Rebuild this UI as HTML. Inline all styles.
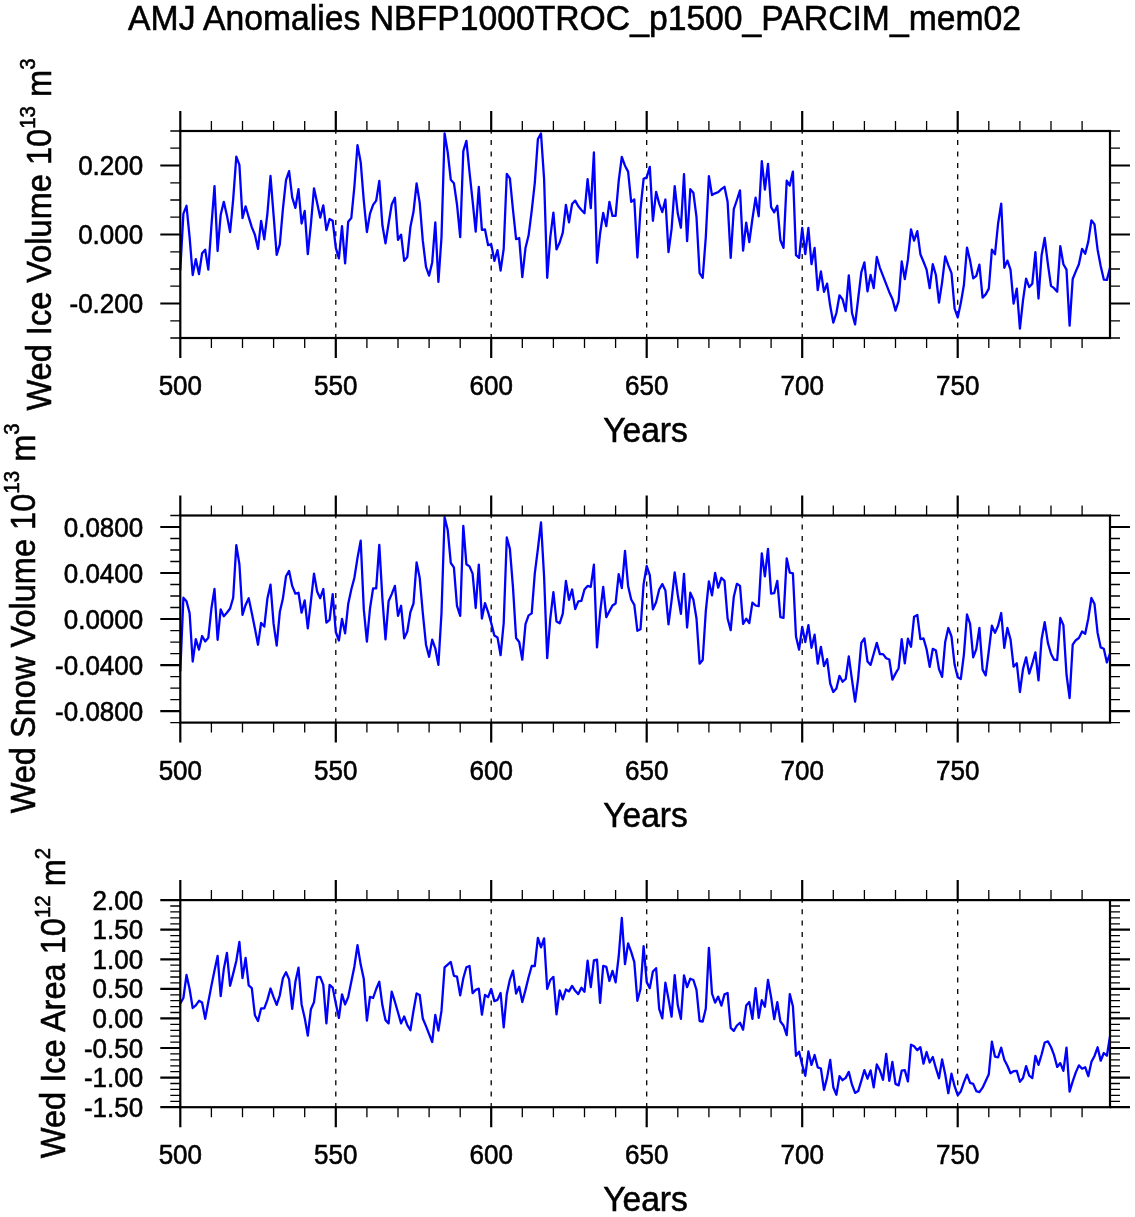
<!DOCTYPE html><html><head><meta charset="utf-8"><title>AMJ Anomalies</title>
<style>html,body{margin:0;padding:0;background:#fff}svg{display:block;will-change:transform}text{font-family:"Liberation Sans", sans-serif;fill:#000}</style></head><body>
<svg width="1135" height="1217" viewBox="0 0 1135 1217">
<rect width="1135" height="1217" fill="#fff"/>
<text transform="translate(574.60 30.40) scale(1.0000 1.0500)" font-size="33.4" text-anchor="middle" stroke="#000" stroke-width="0.55" textLength="893" lengthAdjust="spacingAndGlyphs">AMJ Anomalies NBFP1000TROC_p1500_PARCIM_mem02</text>
<g><line x1="335.8" y1="131.0" x2="335.8" y2="338.0" stroke="#000" stroke-width="1.3" stroke-dasharray="5 6.4" stroke-dashoffset="2.3"/><line x1="491.2" y1="131.0" x2="491.2" y2="338.0" stroke="#000" stroke-width="1.3" stroke-dasharray="5 6.4" stroke-dashoffset="2.3"/><line x1="646.7" y1="131.0" x2="646.7" y2="338.0" stroke="#000" stroke-width="1.3" stroke-dasharray="5 6.4" stroke-dashoffset="2.3"/><line x1="802.2" y1="131.0" x2="802.2" y2="338.0" stroke="#000" stroke-width="1.3" stroke-dasharray="5 6.4" stroke-dashoffset="2.3"/><line x1="957.7" y1="131.0" x2="957.7" y2="338.0" stroke="#000" stroke-width="1.3" stroke-dasharray="5 6.4" stroke-dashoffset="2.3"/><polyline points="180.3,269.6 183.4,213.6 186.5,205.8 189.6,237.1 192.7,275.0 195.8,259.1 199.0,274.1 202.1,253.3 205.2,249.7 208.3,269.6 211.4,226.2 214.5,186.1 217.6,251.0 220.7,214.8 223.8,201.8 226.9,215.4 230.1,232.0 233.2,199.1 236.3,156.6 239.4,164.8 242.5,218.1 245.6,206.3 248.7,217.2 251.8,227.1 254.9,234.7 258.0,248.8 261.1,220.8 264.3,239.4 267.4,213.6 270.5,176.0 273.6,215.4 276.7,254.8 279.8,244.3 282.9,209.1 286.0,180.1 289.1,171.1 292.2,197.3 295.4,207.8 298.5,189.2 301.6,223.5 304.7,210.9 307.8,254.2 310.9,224.4 314.0,188.3 317.1,202.7 320.2,217.6 323.3,205.4 326.4,230.2 329.6,219.0 332.7,220.8 335.8,247.9 338.9,258.4 342.0,226.2 345.1,263.3 348.2,221.7 351.3,218.1 354.4,186.5 357.5,145.2 360.7,162.1 363.8,200.9 366.9,232.0 370.0,213.6 373.1,204.9 376.2,200.6 379.3,181.0 382.4,225.3 385.5,243.4 388.6,223.5 391.7,204.5 394.9,197.7 398.0,239.8 401.1,234.7 404.2,260.9 407.3,257.0 410.4,227.1 413.5,211.8 416.6,183.4 419.7,202.7 422.8,240.7 426.0,266.9 429.1,275.6 432.2,262.4 435.3,222.3 438.4,281.9 441.5,237.1 444.6,133.5 447.7,152.1 450.8,179.8 453.9,183.2 457.0,204.5 460.2,237.1 463.3,151.2 466.4,140.9 469.5,172.0 472.6,200.9 475.7,231.7 478.8,187.0 481.9,229.8 485.0,229.5 488.1,245.2 491.2,244.3 494.4,260.9 497.5,250.1 500.6,270.5 503.7,248.8 506.8,173.8 509.9,178.3 513.0,210.0 516.1,239.2 519.2,238.0 522.3,277.2 525.5,247.9 528.6,235.3 531.7,210.9 534.8,182.8 537.9,139.1 541.0,133.5 544.1,179.2 547.2,277.8 550.3,237.1 553.4,212.7 556.5,249.4 559.7,242.5 562.8,232.6 565.9,204.9 569.0,222.3 572.1,204.0 575.2,200.6 578.3,206.3 581.4,210.0 584.5,213.2 587.6,179.2 590.8,208.2 593.9,152.5 597.0,262.8 600.1,233.5 603.2,213.0 606.3,226.2 609.4,201.8 612.5,215.9 615.6,215.9 618.7,181.0 621.8,157.0 625.0,165.7 628.1,171.6 631.2,201.8 634.3,199.5 637.4,257.5 640.5,209.1 643.6,178.9 646.7,177.4 649.8,166.9 652.9,220.8 656.1,191.9 659.2,203.6 662.3,212.1 665.4,199.5 668.5,252.1 671.6,228.9 674.7,186.1 677.8,213.6 680.9,227.7 684.0,174.2 687.1,241.2 690.3,189.2 693.4,192.8 696.5,217.2 699.6,273.2 702.7,277.8 705.8,237.1 708.9,176.2 712.0,195.1 715.1,193.3 718.2,192.2 721.4,189.2 724.5,186.8 727.6,201.8 730.7,257.9 733.8,209.1 736.9,200.0 740.0,190.4 743.1,250.6 746.2,222.6 749.3,242.1 752.4,219.0 755.6,197.7 758.7,216.3 761.8,161.2 764.9,189.5 768.0,163.9 771.1,207.2 774.2,212.3 777.3,205.8 780.4,240.3 783.5,247.9 786.7,180.7 789.8,185.6 792.9,171.6 796.0,255.2 799.1,257.9 802.2,228.0 805.3,254.2 808.4,228.0 811.5,264.2 814.6,247.9 817.7,290.1 820.9,271.4 824.0,291.9 827.1,283.7 830.2,305.8 833.3,322.6 836.4,313.0 839.5,295.3 842.6,299.4 845.7,311.2 848.8,275.4 852.0,313.0 855.1,324.4 858.2,298.5 861.3,272.3 864.4,262.4 867.5,291.3 870.6,275.0 873.7,288.1 876.8,257.0 879.9,267.8 883.0,275.9 886.2,284.1 889.3,292.2 892.4,298.9 895.5,310.6 898.6,301.2 901.7,261.5 904.8,279.0 907.9,259.7 911.0,229.3 914.1,240.7 917.3,231.1 920.4,254.2 923.5,261.8 926.6,269.6 929.7,288.2 932.8,264.2 935.9,275.0 939.0,302.7 942.1,282.3 945.2,256.4 948.3,265.1 951.5,273.2 954.6,308.5 957.7,317.5 960.8,303.1 963.9,285.0 967.0,247.6 970.1,260.6 973.2,278.3 976.3,275.9 979.4,264.6 982.6,297.6 985.7,294.4 988.8,288.6 991.9,249.7 995.0,254.2 998.1,223.5 1001.2,203.6 1004.3,267.8 1007.4,260.6 1010.5,269.6 1013.6,303.6 1016.8,288.6 1019.9,328.7 1023.0,300.4 1026.1,278.7 1029.2,287.1 1032.3,283.7 1035.4,252.1 1038.5,298.5 1041.6,255.2 1044.7,238.0 1047.9,264.2 1051.0,285.9 1054.1,288.2 1057.2,291.7 1060.3,246.1 1063.4,264.2 1066.5,269.6 1069.6,325.7 1072.7,279.0 1075.8,271.4 1078.9,264.2 1082.1,248.8 1085.2,253.7 1088.3,241.6 1091.4,220.3 1094.5,224.4 1097.6,249.7 1100.7,266.0 1103.8,279.6 1106.9,279.9 1110.0,267.8" fill="none" stroke="#0000ff" stroke-width="2.3" stroke-linejoin="round" stroke-linecap="round"/><rect x="180.3" y="131.0" width="929.7" height="207.0" fill="none" stroke="#000" stroke-width="2.2"/><path d="M180.3 131.0V111.0M180.3 338.0V358.0M335.8 131.0V111.0M335.8 338.0V358.0M491.2 131.0V111.0M491.2 338.0V358.0M646.7 131.0V111.0M646.7 338.0V358.0M802.2 131.0V111.0M802.2 338.0V358.0M957.7 131.0V111.0M957.7 338.0V358.0M180.3 165.5H160.3M1110.0 165.5H1130.0M180.3 234.5H160.3M1110.0 234.5H1130.0M180.3 303.5H160.3M1110.0 303.5H1130.0" stroke="#000" stroke-width="2.2" fill="none"/><path d="M211.4 131.0V121.0M211.4 338.0V348.0M242.5 131.0V121.0M242.5 338.0V348.0M273.6 131.0V121.0M273.6 338.0V348.0M304.7 131.0V121.0M304.7 338.0V348.0M366.9 131.0V121.0M366.9 338.0V348.0M398.0 131.0V121.0M398.0 338.0V348.0M429.1 131.0V121.0M429.1 338.0V348.0M460.2 131.0V121.0M460.2 338.0V348.0M522.3 131.0V121.0M522.3 338.0V348.0M553.4 131.0V121.0M553.4 338.0V348.0M584.5 131.0V121.0M584.5 338.0V348.0M615.6 131.0V121.0M615.6 338.0V348.0M677.8 131.0V121.0M677.8 338.0V348.0M708.9 131.0V121.0M708.9 338.0V348.0M740.0 131.0V121.0M740.0 338.0V348.0M771.1 131.0V121.0M771.1 338.0V348.0M833.3 131.0V121.0M833.3 338.0V348.0M864.4 131.0V121.0M864.4 338.0V348.0M895.5 131.0V121.0M895.5 338.0V348.0M926.6 131.0V121.0M926.6 338.0V348.0M988.8 131.0V121.0M988.8 338.0V348.0M1019.9 131.0V121.0M1019.9 338.0V348.0M1051.0 131.0V121.0M1051.0 338.0V348.0M1082.1 131.0V121.0M1082.1 338.0V348.0M180.3 131.0H170.3M1110.0 131.0H1120.0M180.3 148.2H170.3M1110.0 148.2H1120.0M180.3 182.8H170.3M1110.0 182.8H1120.0M180.3 200.0H170.3M1110.0 200.0H1120.0M180.3 217.2H170.3M1110.0 217.2H1120.0M180.3 251.8H170.3M1110.0 251.8H1120.0M180.3 269.0H170.3M1110.0 269.0H1120.0M180.3 286.2H170.3M1110.0 286.2H1120.0M180.3 320.8H170.3M1110.0 320.8H1120.0M180.3 338.0H170.3M1110.0 338.0H1120.0" stroke="#000" stroke-width="1.3" fill="none"/><text transform="translate(180.30 394.90) scale(1.0000 1.0500)" font-size="26" text-anchor="middle" stroke="#000" stroke-width="0.55">500</text><text transform="translate(335.77 394.90) scale(1.0000 1.0500)" font-size="26" text-anchor="middle" stroke="#000" stroke-width="0.55">550</text><text transform="translate(491.25 394.90) scale(1.0000 1.0500)" font-size="26" text-anchor="middle" stroke="#000" stroke-width="0.55">600</text><text transform="translate(646.73 394.90) scale(1.0000 1.0500)" font-size="26" text-anchor="middle" stroke="#000" stroke-width="0.55">650</text><text transform="translate(802.20 394.90) scale(1.0000 1.0500)" font-size="26" text-anchor="middle" stroke="#000" stroke-width="0.55">700</text><text transform="translate(957.67 394.90) scale(1.0000 1.0500)" font-size="26" text-anchor="middle" stroke="#000" stroke-width="0.55">750</text><text transform="translate(143.20 175.00) scale(1.0000 1.0500)" font-size="26" text-anchor="end" stroke="#000" stroke-width="0.55">0.200</text><text transform="translate(143.20 244.00) scale(1.0000 1.0500)" font-size="26" text-anchor="end" stroke="#000" stroke-width="0.55">0.000</text><text transform="translate(143.20 313.00) scale(1.0000 1.0500)" font-size="26" text-anchor="end" stroke="#000" stroke-width="0.55">-0.200</text><text transform="translate(645.50 442.00) scale(1.0000 1.0400)" font-size="33.6" text-anchor="middle" stroke="#000" stroke-width="0.55">Years</text><text transform="translate(50.50 234.50) rotate(-90) scale(0.9750 1.0400)" font-size="33.4" text-anchor="middle" stroke="#000" stroke-width="0.55">Wed Ice Volume 10<tspan font-size="21" dy="-15.2">13</tspan><tspan dy="15.2"> m</tspan><tspan font-size="21" dy="-15.2">3</tspan></text></g>
<g><line x1="335.8" y1="515.5" x2="335.8" y2="722.6" stroke="#000" stroke-width="1.3" stroke-dasharray="5 6.4" stroke-dashoffset="2.3"/><line x1="491.2" y1="515.5" x2="491.2" y2="722.6" stroke="#000" stroke-width="1.3" stroke-dasharray="5 6.4" stroke-dashoffset="2.3"/><line x1="646.7" y1="515.5" x2="646.7" y2="722.6" stroke="#000" stroke-width="1.3" stroke-dasharray="5 6.4" stroke-dashoffset="2.3"/><line x1="802.2" y1="515.5" x2="802.2" y2="722.6" stroke="#000" stroke-width="1.3" stroke-dasharray="5 6.4" stroke-dashoffset="2.3"/><line x1="957.7" y1="515.5" x2="957.7" y2="722.6" stroke="#000" stroke-width="1.3" stroke-dasharray="5 6.4" stroke-dashoffset="2.3"/><polyline points="180.3,670.9 183.4,597.7 186.5,601.3 189.6,613.0 192.7,661.5 195.8,639.2 199.0,649.6 202.1,636.0 205.2,641.4 208.3,637.8 211.4,608.5 214.5,589.0 217.6,639.8 220.7,609.4 223.8,616.3 226.9,612.7 230.1,608.5 233.2,597.7 236.3,545.2 239.4,564.2 242.5,614.9 245.6,604.9 248.7,598.2 251.8,613.0 254.9,628.4 258.0,644.7 261.1,623.0 264.3,626.6 267.4,598.6 270.5,584.7 273.6,623.9 276.7,645.6 279.8,612.1 282.9,598.6 286.0,576.3 289.1,570.9 292.2,585.9 295.4,593.7 298.5,592.8 301.6,612.7 304.7,600.4 307.8,628.4 310.9,601.3 314.0,573.6 317.1,591.4 320.2,598.2 323.3,589.0 326.4,622.6 329.6,619.9 332.7,594.1 335.8,632.0 338.9,640.5 342.0,618.8 345.1,633.3 348.2,604.0 351.3,589.5 354.4,577.8 357.5,557.9 360.7,540.7 363.8,609.4 366.9,641.6 370.0,608.5 373.1,588.3 376.2,588.3 379.3,544.9 382.4,598.6 385.5,639.4 388.6,601.3 391.7,594.1 394.9,585.9 398.0,615.8 401.1,605.8 404.2,638.4 407.3,631.5 410.4,612.1 413.5,603.5 416.6,562.4 419.7,577.8 422.8,613.0 426.0,644.7 429.1,656.8 432.2,639.6 435.3,648.3 438.4,664.9 441.5,613.0 444.6,517.2 447.7,529.9 450.8,563.0 453.9,567.3 457.0,605.8 460.2,615.8 463.3,525.9 466.4,564.2 469.5,566.4 472.6,573.6 475.7,608.0 478.8,564.6 481.9,618.5 485.0,603.1 488.1,612.1 491.2,623.0 494.4,635.6 497.5,637.4 500.6,655.2 503.7,623.0 506.8,537.5 509.9,548.9 513.0,587.7 516.1,638.0 519.2,642.0 522.3,659.7 525.5,624.2 528.6,615.4 531.7,613.4 534.8,573.3 537.9,548.9 541.0,522.3 544.1,576.9 547.2,658.2 550.3,618.5 553.4,592.2 556.5,621.5 559.7,623.3 562.8,613.6 565.9,581.0 569.0,599.8 572.1,589.5 575.2,609.1 578.3,601.3 581.4,600.9 584.5,589.5 587.6,585.9 590.8,586.8 593.9,564.6 597.0,647.4 600.1,613.0 603.2,586.8 606.3,617.2 609.4,611.2 612.5,605.5 615.6,603.5 618.7,574.2 621.8,588.1 625.0,551.0 628.1,585.9 631.2,599.5 634.3,604.9 637.4,630.8 640.5,629.3 643.6,584.1 646.7,566.0 649.8,575.1 652.9,609.4 656.1,602.2 659.2,589.5 662.3,584.1 665.4,590.4 668.5,624.4 671.6,600.4 674.7,572.4 677.8,595.0 680.9,613.9 684.0,573.8 687.1,627.5 690.3,592.6 693.4,599.8 696.5,618.5 699.6,663.7 702.7,660.0 705.8,611.2 708.9,581.4 712.0,595.3 715.1,572.9 718.2,587.7 721.4,577.8 724.5,580.9 727.6,618.5 730.7,630.2 733.8,596.8 736.9,583.8 740.0,585.9 743.1,623.9 746.2,618.8 749.3,623.0 752.4,602.6 755.6,605.5 758.7,606.2 761.8,553.4 764.9,576.3 768.0,548.9 771.1,593.7 774.2,593.2 777.3,580.9 780.4,617.2 783.5,617.9 786.7,558.3 789.8,572.7 792.9,573.3 796.0,636.5 799.1,649.7 802.2,627.0 805.3,642.0 808.4,625.1 811.5,647.8 814.6,634.7 817.7,663.7 820.9,646.8 824.0,666.0 827.1,659.1 830.2,683.5 833.3,692.0 836.4,688.6 839.5,675.8 842.6,681.7 845.7,679.0 848.8,656.4 852.0,679.9 855.1,701.6 858.2,678.1 861.3,642.9 864.4,638.4 867.5,661.5 870.6,664.9 873.7,653.7 876.8,642.9 879.9,654.1 883.0,654.1 886.2,658.2 889.3,659.5 892.4,679.6 895.5,673.6 898.6,668.2 901.7,639.2 904.8,663.3 907.9,638.7 911.0,646.8 914.1,616.7 917.3,614.9 920.4,639.2 923.5,638.4 926.6,649.2 929.7,666.9 932.8,648.8 935.9,650.5 939.0,669.1 942.1,676.9 945.2,642.0 948.3,628.0 951.5,636.5 954.6,664.6 957.7,677.2 960.8,679.0 963.9,654.6 967.0,614.5 970.1,623.9 973.2,657.3 976.3,649.2 979.4,627.9 982.6,669.6 985.7,675.4 988.8,651.0 991.9,625.7 995.0,632.9 998.1,625.7 1001.2,613.0 1004.3,647.9 1007.4,628.0 1010.5,639.2 1013.6,666.7 1016.8,663.3 1019.9,692.0 1023.0,669.1 1026.1,657.3 1029.2,673.6 1032.3,663.7 1035.4,652.3 1038.5,680.3 1041.6,639.2 1044.7,622.1 1047.9,642.9 1051.0,653.7 1054.1,659.7 1057.2,660.0 1060.3,617.9 1063.4,625.1 1066.5,674.5 1069.6,698.0 1072.7,644.7 1075.8,640.2 1078.9,638.0 1082.1,631.5 1085.2,633.8 1088.3,618.5 1091.4,598.0 1094.5,604.0 1097.6,632.9 1100.7,647.4 1103.8,648.8 1106.9,662.4 1110.0,653.7" fill="none" stroke="#0000ff" stroke-width="2.3" stroke-linejoin="round" stroke-linecap="round"/><rect x="180.3" y="515.5" width="929.7" height="207.1" fill="none" stroke="#000" stroke-width="2.2"/><path d="M180.3 515.5V495.5M180.3 722.6V742.6M335.8 515.5V495.5M335.8 722.6V742.6M491.2 515.5V495.5M491.2 722.6V742.6M646.7 515.5V495.5M646.7 722.6V742.6M802.2 515.5V495.5M802.2 722.6V742.6M957.7 515.5V495.5M957.7 722.6V742.6M180.3 527.0H160.3M1110.0 527.0H1130.0M180.3 573.0H160.3M1110.0 573.0H1130.0M180.3 619.0H160.3M1110.0 619.0H1130.0M180.3 665.1H160.3M1110.0 665.1H1130.0M180.3 711.1H160.3M1110.0 711.1H1130.0" stroke="#000" stroke-width="2.2" fill="none"/><path d="M211.4 515.5V505.5M211.4 722.6V732.6M242.5 515.5V505.5M242.5 722.6V732.6M273.6 515.5V505.5M273.6 722.6V732.6M304.7 515.5V505.5M304.7 722.6V732.6M366.9 515.5V505.5M366.9 722.6V732.6M398.0 515.5V505.5M398.0 722.6V732.6M429.1 515.5V505.5M429.1 722.6V732.6M460.2 515.5V505.5M460.2 722.6V732.6M522.3 515.5V505.5M522.3 722.6V732.6M553.4 515.5V505.5M553.4 722.6V732.6M584.5 515.5V505.5M584.5 722.6V732.6M615.6 515.5V505.5M615.6 722.6V732.6M677.8 515.5V505.5M677.8 722.6V732.6M708.9 515.5V505.5M708.9 722.6V732.6M740.0 515.5V505.5M740.0 722.6V732.6M771.1 515.5V505.5M771.1 722.6V732.6M833.3 515.5V505.5M833.3 722.6V732.6M864.4 515.5V505.5M864.4 722.6V732.6M895.5 515.5V505.5M895.5 722.6V732.6M926.6 515.5V505.5M926.6 722.6V732.6M988.8 515.5V505.5M988.8 722.6V732.6M1019.9 515.5V505.5M1019.9 722.6V732.6M1051.0 515.5V505.5M1051.0 722.6V732.6M1082.1 515.5V505.5M1082.1 722.6V732.6M180.3 515.5H170.3M1110.0 515.5H1120.0M180.3 538.5H170.3M1110.0 538.5H1120.0M180.3 550.0H170.3M1110.0 550.0H1120.0M180.3 561.5H170.3M1110.0 561.5H1120.0M180.3 584.5H170.3M1110.0 584.5H1120.0M180.3 596.0H170.3M1110.0 596.0H1120.0M180.3 607.5H170.3M1110.0 607.5H1120.0M180.3 630.6H170.3M1110.0 630.6H1120.0M180.3 642.1H170.3M1110.0 642.1H1120.0M180.3 653.6H170.3M1110.0 653.6H1120.0M180.3 676.6H170.3M1110.0 676.6H1120.0M180.3 688.1H170.3M1110.0 688.1H1120.0M180.3 699.6H170.3M1110.0 699.6H1120.0M180.3 722.6H170.3M1110.0 722.6H1120.0" stroke="#000" stroke-width="1.3" fill="none"/><text transform="translate(180.30 779.50) scale(1.0000 1.0500)" font-size="26" text-anchor="middle" stroke="#000" stroke-width="0.55">500</text><text transform="translate(335.77 779.50) scale(1.0000 1.0500)" font-size="26" text-anchor="middle" stroke="#000" stroke-width="0.55">550</text><text transform="translate(491.25 779.50) scale(1.0000 1.0500)" font-size="26" text-anchor="middle" stroke="#000" stroke-width="0.55">600</text><text transform="translate(646.73 779.50) scale(1.0000 1.0500)" font-size="26" text-anchor="middle" stroke="#000" stroke-width="0.55">650</text><text transform="translate(802.20 779.50) scale(1.0000 1.0500)" font-size="26" text-anchor="middle" stroke="#000" stroke-width="0.55">700</text><text transform="translate(957.67 779.50) scale(1.0000 1.0500)" font-size="26" text-anchor="middle" stroke="#000" stroke-width="0.55">750</text><text transform="translate(143.20 536.51) scale(1.0000 1.0500)" font-size="26" text-anchor="end" stroke="#000" stroke-width="0.55">0.0800</text><text transform="translate(143.20 582.53) scale(1.0000 1.0500)" font-size="26" text-anchor="end" stroke="#000" stroke-width="0.55">0.0400</text><text transform="translate(143.20 628.55) scale(1.0000 1.0500)" font-size="26" text-anchor="end" stroke="#000" stroke-width="0.55">0.0000</text><text transform="translate(143.20 674.57) scale(1.0000 1.0500)" font-size="26" text-anchor="end" stroke="#000" stroke-width="0.55">-0.0400</text><text transform="translate(143.20 720.59) scale(1.0000 1.0500)" font-size="26" text-anchor="end" stroke="#000" stroke-width="0.55">-0.0800</text><text transform="translate(645.50 826.60) scale(1.0000 1.0400)" font-size="33.6" text-anchor="middle" stroke="#000" stroke-width="0.55">Years</text><text transform="translate(34.60 618.35) rotate(-90) scale(0.9750 1.0400)" font-size="33.4" text-anchor="middle" stroke="#000" stroke-width="0.55">Wed Snow Volume 10<tspan font-size="21" dy="-15.2">13</tspan><tspan dy="15.2"> m</tspan><tspan font-size="21" dy="-15.2">3</tspan></text></g>
<g><line x1="335.8" y1="900.1" x2="335.8" y2="1107.2" stroke="#000" stroke-width="1.3" stroke-dasharray="5 6.4" stroke-dashoffset="2.3"/><line x1="491.2" y1="900.1" x2="491.2" y2="1107.2" stroke="#000" stroke-width="1.3" stroke-dasharray="5 6.4" stroke-dashoffset="2.3"/><line x1="646.7" y1="900.1" x2="646.7" y2="1107.2" stroke="#000" stroke-width="1.3" stroke-dasharray="5 6.4" stroke-dashoffset="2.3"/><line x1="802.2" y1="900.1" x2="802.2" y2="1107.2" stroke="#000" stroke-width="1.3" stroke-dasharray="5 6.4" stroke-dashoffset="2.3"/><line x1="957.7" y1="900.1" x2="957.7" y2="1107.2" stroke="#000" stroke-width="1.3" stroke-dasharray="5 6.4" stroke-dashoffset="2.3"/><polyline points="180.3,1003.5 183.4,998.0 186.5,974.9 189.6,989.0 192.7,1008.0 195.8,1005.3 199.0,1000.8 202.1,1002.6 205.2,1018.8 208.3,1002.0 211.4,985.9 214.5,970.6 217.6,955.9 220.7,996.2 223.8,969.1 226.9,952.9 230.1,985.8 233.2,973.6 236.3,961.0 239.4,942.0 242.5,978.2 245.6,957.9 248.7,985.4 251.8,988.1 254.9,1015.2 258.0,1021.0 261.1,1008.5 264.3,1008.3 267.4,999.9 270.5,988.5 273.6,997.1 276.7,1004.9 279.8,995.3 282.9,978.2 286.0,972.2 289.1,979.4 292.2,1008.9 295.4,981.8 298.5,967.7 301.6,1004.4 304.7,1017.9 307.8,1035.6 310.9,1009.2 314.0,1002.2 317.1,977.2 320.2,976.9 323.3,984.8 326.4,1023.4 329.6,984.8 332.7,987.6 335.8,1003.5 338.9,1017.9 342.0,994.4 345.1,1004.4 348.2,997.1 351.3,981.8 354.4,966.4 357.5,945.1 360.7,964.6 363.8,979.1 366.9,1020.6 370.0,996.8 373.1,998.0 376.2,989.0 379.3,981.8 382.4,1005.3 385.5,1020.1 388.6,1023.4 391.7,991.7 394.9,1001.7 398.0,1012.5 401.1,1023.4 404.2,1016.5 407.3,1025.2 410.4,1030.2 413.5,1010.7 416.6,993.5 419.7,995.0 422.8,1018.5 426.0,1026.1 429.1,1034.2 432.2,1042.0 435.3,1014.9 438.4,1030.6 441.5,1010.7 444.6,967.3 447.7,964.6 450.8,961.9 453.9,975.8 457.0,976.7 460.2,995.3 463.3,978.2 466.4,967.3 469.5,966.0 472.6,993.2 475.7,989.9 478.8,988.6 481.9,1014.7 485.0,995.0 488.1,997.1 491.2,989.0 494.4,1001.1 497.5,999.9 500.6,993.0 503.7,1027.3 506.8,993.9 509.9,979.6 513.0,970.6 516.1,993.5 519.2,986.8 522.3,1002.0 525.5,989.9 528.6,977.2 531.7,966.0 534.8,966.0 537.9,937.8 541.0,947.4 544.1,938.4 547.2,989.0 550.3,980.0 553.4,976.9 556.5,1014.3 559.7,990.5 562.8,999.3 565.9,989.5 569.0,991.4 572.1,985.9 575.2,990.8 578.3,994.1 581.4,987.7 584.5,991.7 587.6,960.6 590.8,987.2 593.9,960.4 597.0,959.7 600.1,1002.9 603.2,965.9 606.3,966.8 609.4,980.9 612.5,970.9 615.6,982.3 618.7,956.5 621.8,918.0 625.0,964.1 628.1,943.3 631.2,951.9 634.3,962.2 637.4,1000.8 640.5,989.0 643.6,946.2 646.7,982.1 649.8,988.1 652.9,971.5 656.1,968.2 659.2,1008.9 662.3,1018.3 665.4,982.7 668.5,998.9 671.6,1016.7 674.7,975.1 677.8,1005.3 680.9,1018.8 684.0,975.4 687.1,987.2 690.3,978.7 693.4,980.0 696.5,989.9 699.6,1021.0 702.7,1021.5 705.8,1008.5 708.9,947.8 712.0,993.5 715.1,1002.6 718.2,996.6 721.4,1005.6 724.5,994.4 727.6,993.0 730.7,1027.9 733.8,1030.9 736.9,1025.5 740.0,1022.8 743.1,1029.7 746.2,1005.6 749.3,1002.0 752.4,1018.8 755.6,988.1 758.7,1017.9 761.8,1000.2 764.9,1006.7 768.0,980.0 771.1,997.1 774.2,1019.2 777.3,1002.2 780.4,1021.5 783.5,1025.5 786.7,1035.1 789.8,994.1 792.9,1006.2 796.0,1055.9 799.1,1051.7 802.2,1064.9 805.3,1075.8 808.4,1051.4 811.5,1064.9 814.6,1055.0 817.7,1067.3 820.9,1068.5 824.0,1089.9 827.1,1077.6 830.2,1060.0 833.3,1087.2 836.4,1094.7 839.5,1076.1 842.6,1080.2 845.7,1077.9 848.8,1071.9 852.0,1084.7 855.1,1092.9 858.2,1091.1 861.3,1080.9 864.4,1070.1 867.5,1078.7 870.6,1070.4 873.7,1087.4 876.8,1064.5 879.9,1070.4 883.0,1079.9 886.2,1054.0 889.3,1080.9 892.4,1061.8 895.5,1083.9 898.6,1085.4 901.7,1070.7 904.8,1070.1 907.9,1081.4 911.0,1044.7 914.1,1046.2 917.3,1050.2 920.4,1047.2 923.5,1063.7 926.6,1052.0 929.7,1062.5 932.8,1057.0 935.9,1068.2 939.0,1078.2 942.1,1059.5 945.2,1074.2 948.3,1093.2 951.5,1073.7 954.6,1086.2 957.7,1095.2 960.8,1091.4 963.9,1082.4 967.0,1074.6 970.1,1082.9 973.2,1083.9 976.3,1091.1 979.4,1092.2 982.6,1087.7 985.7,1080.9 988.8,1074.2 991.9,1041.7 995.0,1056.7 998.1,1057.4 1001.2,1047.7 1004.3,1059.7 1007.4,1065.7 1010.5,1073.2 1013.6,1071.2 1016.8,1070.9 1019.9,1081.7 1023.0,1078.0 1026.1,1066.1 1029.2,1075.7 1032.3,1078.1 1035.4,1056.0 1038.5,1064.9 1041.6,1054.5 1044.7,1042.5 1047.9,1041.4 1051.0,1047.0 1054.1,1055.2 1057.2,1066.9 1060.3,1063.1 1063.4,1070.9 1066.5,1047.7 1069.6,1091.6 1072.7,1081.4 1075.8,1072.4 1078.9,1065.4 1082.1,1068.7 1085.2,1067.2 1088.3,1076.2 1091.4,1061.9 1094.5,1056.0 1097.6,1047.3 1100.7,1060.7 1103.8,1053.0 1106.9,1055.7 1110.0,1036.5" fill="none" stroke="#0000ff" stroke-width="2.3" stroke-linejoin="round" stroke-linecap="round"/><rect x="180.3" y="900.1" width="929.7" height="207.1" fill="none" stroke="#000" stroke-width="2.2"/><path d="M180.3 900.1V880.1M180.3 1107.2V1127.2M335.8 900.1V880.1M335.8 1107.2V1127.2M491.2 900.1V880.1M491.2 1107.2V1127.2M646.7 900.1V880.1M646.7 1107.2V1127.2M802.2 900.1V880.1M802.2 1107.2V1127.2M957.7 900.1V880.1M957.7 1107.2V1127.2M180.3 900.1H160.3M1110.0 900.1H1130.0M180.3 929.7H160.3M1110.0 929.7H1130.0M180.3 959.3H160.3M1110.0 959.3H1130.0M180.3 988.9H160.3M1110.0 988.9H1130.0M180.3 1018.4H160.3M1110.0 1018.4H1130.0M180.3 1048.0H160.3M1110.0 1048.0H1130.0M180.3 1077.6H160.3M1110.0 1077.6H1130.0M180.3 1107.2H160.3M1110.0 1107.2H1130.0" stroke="#000" stroke-width="2.2" fill="none"/><path d="M211.4 900.1V890.1M211.4 1107.2V1117.2M242.5 900.1V890.1M242.5 1107.2V1117.2M273.6 900.1V890.1M273.6 1107.2V1117.2M304.7 900.1V890.1M304.7 1107.2V1117.2M366.9 900.1V890.1M366.9 1107.2V1117.2M398.0 900.1V890.1M398.0 1107.2V1117.2M429.1 900.1V890.1M429.1 1107.2V1117.2M460.2 900.1V890.1M460.2 1107.2V1117.2M522.3 900.1V890.1M522.3 1107.2V1117.2M553.4 900.1V890.1M553.4 1107.2V1117.2M584.5 900.1V890.1M584.5 1107.2V1117.2M615.6 900.1V890.1M615.6 1107.2V1117.2M677.8 900.1V890.1M677.8 1107.2V1117.2M708.9 900.1V890.1M708.9 1107.2V1117.2M740.0 900.1V890.1M740.0 1107.2V1117.2M771.1 900.1V890.1M771.1 1107.2V1117.2M833.3 900.1V890.1M833.3 1107.2V1117.2M864.4 900.1V890.1M864.4 1107.2V1117.2M895.5 900.1V890.1M895.5 1107.2V1117.2M926.6 900.1V890.1M926.6 1107.2V1117.2M988.8 900.1V890.1M988.8 1107.2V1117.2M1019.9 900.1V890.1M1019.9 1107.2V1117.2M1051.0 900.1V890.1M1051.0 1107.2V1117.2M1082.1 900.1V890.1M1082.1 1107.2V1117.2M180.3 906.0H170.3M1110.0 906.0H1120.0M180.3 911.9H170.3M1110.0 911.9H1120.0M180.3 917.9H170.3M1110.0 917.9H1120.0M180.3 923.8H170.3M1110.0 923.8H1120.0M180.3 935.6H170.3M1110.0 935.6H1120.0M180.3 941.5H170.3M1110.0 941.5H1120.0M180.3 947.4H170.3M1110.0 947.4H1120.0M180.3 953.4H170.3M1110.0 953.4H1120.0M180.3 965.2H170.3M1110.0 965.2H1120.0M180.3 971.1H170.3M1110.0 971.1H1120.0M180.3 977.0H170.3M1110.0 977.0H1120.0M180.3 982.9H170.3M1110.0 982.9H1120.0M180.3 994.8H170.3M1110.0 994.8H1120.0M180.3 1000.7H170.3M1110.0 1000.7H1120.0M180.3 1006.6H170.3M1110.0 1006.6H1120.0M180.3 1012.5H170.3M1110.0 1012.5H1120.0M180.3 1024.4H170.3M1110.0 1024.4H1120.0M180.3 1030.3H170.3M1110.0 1030.3H1120.0M180.3 1036.2H170.3M1110.0 1036.2H1120.0M180.3 1042.1H170.3M1110.0 1042.1H1120.0M180.3 1053.9H170.3M1110.0 1053.9H1120.0M180.3 1059.9H170.3M1110.0 1059.9H1120.0M180.3 1065.8H170.3M1110.0 1065.8H1120.0M180.3 1071.7H170.3M1110.0 1071.7H1120.0M180.3 1083.5H170.3M1110.0 1083.5H1120.0M180.3 1089.4H170.3M1110.0 1089.4H1120.0M180.3 1095.4H170.3M1110.0 1095.4H1120.0M180.3 1101.3H170.3M1110.0 1101.3H1120.0" stroke="#000" stroke-width="1.3" fill="none"/><text transform="translate(180.30 1164.10) scale(1.0000 1.0500)" font-size="26" text-anchor="middle" stroke="#000" stroke-width="0.55">500</text><text transform="translate(335.77 1164.10) scale(1.0000 1.0500)" font-size="26" text-anchor="middle" stroke="#000" stroke-width="0.55">550</text><text transform="translate(491.25 1164.10) scale(1.0000 1.0500)" font-size="26" text-anchor="middle" stroke="#000" stroke-width="0.55">600</text><text transform="translate(646.73 1164.10) scale(1.0000 1.0500)" font-size="26" text-anchor="middle" stroke="#000" stroke-width="0.55">650</text><text transform="translate(802.20 1164.10) scale(1.0000 1.0500)" font-size="26" text-anchor="middle" stroke="#000" stroke-width="0.55">700</text><text transform="translate(957.67 1164.10) scale(1.0000 1.0500)" font-size="26" text-anchor="middle" stroke="#000" stroke-width="0.55">750</text><text transform="translate(143.20 909.60) scale(1.0000 1.0500)" font-size="26" text-anchor="end" stroke="#000" stroke-width="0.55">2.00</text><text transform="translate(143.20 939.19) scale(1.0000 1.0500)" font-size="26" text-anchor="end" stroke="#000" stroke-width="0.55">1.50</text><text transform="translate(143.20 968.77) scale(1.0000 1.0500)" font-size="26" text-anchor="end" stroke="#000" stroke-width="0.55">1.00</text><text transform="translate(143.20 998.36) scale(1.0000 1.0500)" font-size="26" text-anchor="end" stroke="#000" stroke-width="0.55">0.50</text><text transform="translate(143.20 1027.94) scale(1.0000 1.0500)" font-size="26" text-anchor="end" stroke="#000" stroke-width="0.55">0.00</text><text transform="translate(143.20 1057.53) scale(1.0000 1.0500)" font-size="26" text-anchor="end" stroke="#000" stroke-width="0.55">-0.50</text><text transform="translate(143.20 1087.11) scale(1.0000 1.0500)" font-size="26" text-anchor="end" stroke="#000" stroke-width="0.55">-1.00</text><text transform="translate(143.20 1116.70) scale(1.0000 1.0500)" font-size="26" text-anchor="end" stroke="#000" stroke-width="0.55">-1.50</text><text transform="translate(645.50 1211.20) scale(1.0000 1.0400)" font-size="33.6" text-anchor="middle" stroke="#000" stroke-width="0.55">Years</text><text transform="translate(65.30 1002.95) rotate(-90) scale(0.9750 1.0400)" font-size="33.4" text-anchor="middle" stroke="#000" stroke-width="0.55">Wed Ice Area 10<tspan font-size="21" dy="-15.2">12</tspan><tspan dy="15.2"> m</tspan><tspan font-size="21" dy="-15.2">2</tspan></text></g>
</svg></body></html>
